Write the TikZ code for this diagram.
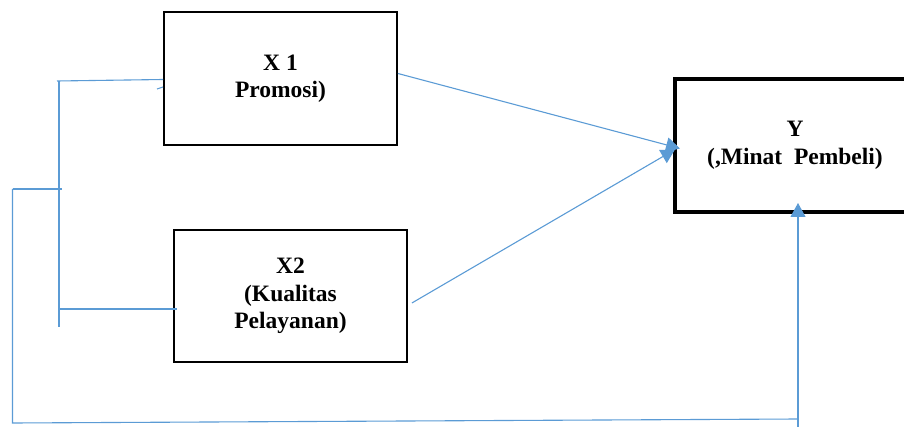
\documentclass[tikz,border=0pt]{standalone}
\usepackage{fontspec}
\setmainfont{Liberation Serif}
\usetikzlibrary{arrows.meta}

\definecolor{linkblue}{RGB}{91,155,213}

\begin{document}
\begin{tikzpicture}[
            x = 1pt, y = -1pt, % one unit is one pixel
            > = {Triangle[length=14pt, width=15pt]}, % arrow head style
            line width = 1.1pt % line style
        ]

        \tikzstyle{var}=[
        draw = black,
        rectangle,
        line width = 1.8pt,
        inner sep = 0pt,
        align = center,
        font = \fontsize{23.5}{27.5}\selectfont\bfseries
        ]
        \tikzstyle{link}=[draw = linkblue, line width = 1.1pt]

        \useasboundingbox (0,0) rectangle (904,427);

        \node (x1) [var, minimum width = 233pt, minimum height = 133pt] at (280.5,78.5) {X 1\\Promosi)};
        \node (x2) [var, minimum width = 233pt, minimum height = 132pt] at (290.5,296) {X2\\(Kualitas\\Pelayanan)};
        \node (y) [var, line width = 4pt, minimum width = 240pt, minimum height = 133pt] at (795,145.5) {Y\\(,Minat~~Pembeli)};

        \coordinate (lt) at (59,81);
        \coordinate (lb) at (59,327);
        \coordinate (l2) at (59,309);
        \coordinate (om) at (12.5,189);
        \coordinate (ob) at (12.5,423);
        \coordinate (yb) at (798,427);

        \draw[link] (57,81) -- ([yshift=-1pt]x1.west);
        \draw[link] (157,89) -- (163,87);
        \draw[link] (lt) -- (lb);
        \draw[link, shorten > = -4pt] (l2) -- (l2 -| x2.west);
        \draw[link] (om) -- (62,189);
        \draw[link] (om) -- (ob) -- (798,419);

        \draw[->, link] ([yshift=5pt]x1.east) -- ([xshift=7pt, yshift=-3pt]y.west);
        \draw[->, link] ([xshift=4pt, yshift=-7pt]x2.east) -- ([xshift=2pt, yshift=-4pt]y.west);
        \draw[->, link, shorten > = -11pt] (yb) -- (yb |- y.south);
    \end{tikzpicture}
\end{document}
